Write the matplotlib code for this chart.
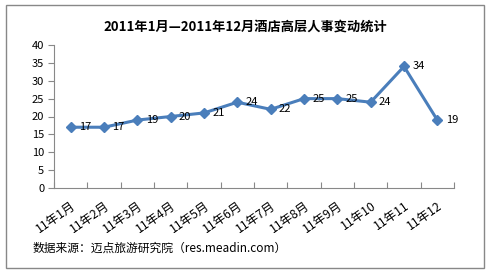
import matplotlib
matplotlib.use('Agg')
import matplotlib.pyplot as plt
from matplotlib.patches import Rectangle
import numpy as np

plt.rcParams['font.family'] = ['Noto Sans CJK SC', 'DejaVu Sans']

months = ['11年1月', '11年2月', '11年3月', '11年4月', '11年5月', '11年6月',
          '11年7月', '11年8月', '11年9月', '11年10', '11年11', '11年12']
changes = [17, 17, 19, 20, 21, 24, 22, 25, 25, 24, 34, 19]
yticks = [0, 5, 10, 15, 20, 25, 30, 35, 40]

fig = plt.figure(figsize=(4.91, 2.76), dpi=100)
fig.patches.append(Rectangle((6 / 491, 8 / 276), 478 / 491, 263 / 276,
                             transform=fig.transFigure, fill=False,
                             edgecolor='#888888', linewidth=1.0))

ax = fig.add_axes([54 / 491, 1 - 188 / 276, 400 / 491, 143 / 276])
x = np.arange(len(months))
line_color = '#4A7EBB'
ax.plot(x, changes, color=line_color, linewidth=2.2, marker='D',
        markersize=5.5, markerfacecolor=line_color, markeredgecolor=line_color)
for xi, v in zip(x, changes):
    ax.annotate(str(v), (xi, v), xytext=(6, 0), textcoords='offset points',
                ha='left', va='center', fontsize=8, color='black')

ax.set_xlim(-0.5, len(months) - 0.5)
ax.set_ylim(0, 40)
ax.set_yticks(yticks)
ax.tick_params(axis='y', direction='out', length=4, labelsize=8, pad=3,
               color='#888888')

# category boundary ticks
ax.set_xticks(np.arange(len(months) + 1) - 0.5)
ax.set_xticklabels([])
ax.tick_params(axis='x', direction='in', length=4, color='#888888')
ax.set_xticks(x, minor=True)
ax.set_xticklabels(months, minor=True, rotation=35, ha='right',
                   rotation_mode='anchor', fontsize=8.8)
ax.tick_params(axis='x', which='minor', length=0, pad=8)

for side in ['top', 'right']:
    ax.spines[side].set_visible(False)
for side in ['left', 'bottom']:
    ax.spines[side].set_color('#888888')

fig.text(245 / 491, 1 - 27 / 276, '2011年1月—2011年12月酒店高层人事变动统计',
         ha='center', va='center', fontsize=9.5, fontweight='bold')
fig.text(33 / 491, 1 - 248 / 276, '数据来源：迈点旅游研究院（res.meadin.com）',
         ha='left', va='center', fontsize=8.5)

fig.savefig('out.png', dpi=100)
